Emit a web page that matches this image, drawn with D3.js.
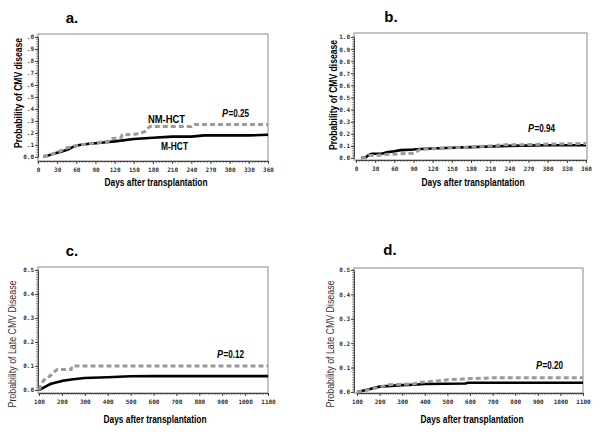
<!DOCTYPE html>
<html><head><meta charset="utf-8">
<script src="https://cdn.jsdelivr.net/npm/d3@7"></script>
<style>body{margin:0;background:#fff}svg{display:block}</style>
</head><body>
<svg id="c" width="600" height="434"></svg>
<script>
// ---- data ----
const panelLabels = ["a.", "b.", "c.", "d."];
const pValues = ["0.25", "0.94", "0.12", "0.20"];
const seriesNames = ["M-HCT", "NM-HCT"];

// panel a (days, probability)
const aDays_M = [8, 15, 20, 30, 40, 48, 55, 65, 80, 90, 110, 120, 150, 180, 210, 240, 260, 300, 330, 360];
const aProb_M = [0.005, 0.01, 0.02, 0.035, 0.05, 0.065, 0.085, 0.10, 0.11, 0.115, 0.125, 0.13, 0.15, 0.16, 0.17, 0.17, 0.18, 0.18, 0.18, 0.185];
const aDays_NM = [8, 15, 25, 35, 45, 55, 65, 80, 100, 110, 112, 130, 132, 150, 160, 168, 172, 175, 210, 240, 243, 300, 360];
const aProb_NM = [0.005, 0.01, 0.03, 0.05, 0.075, 0.09, 0.10, 0.11, 0.125, 0.13, 0.15, 0.16, 0.185, 0.19, 0.195, 0.215, 0.24, 0.255, 0.255, 0.255, 0.27, 0.27, 0.27];

// panel b
const bDays_M = [8, 15, 20, 25, 40, 50, 60, 70, 90, 100, 130, 150, 180, 210, 240, 300, 360];
const bProb_M = [0.0, 0.005, 0.025, 0.035, 0.035, 0.05, 0.055, 0.065, 0.07, 0.075, 0.08, 0.085, 0.09, 0.095, 0.10, 0.105, 0.105];
const bDays_NM = [8, 15, 20, 30, 50, 70, 90, 95, 100, 130, 180, 210, 230, 260, 300, 360];
const bProb_NM = [0.0, 0.005, 0.02, 0.02, 0.03, 0.035, 0.04, 0.055, 0.07, 0.08, 0.09, 0.10, 0.11, 0.11, 0.115, 0.12];

// panel c
const cDays_M = [100, 110, 130, 150, 170, 200, 250, 300, 400, 450, 500, 600, 1100];
const cProb_M = [0.0, 0.005, 0.015, 0.025, 0.03, 0.038, 0.045, 0.05, 0.053, 0.055, 0.057, 0.058, 0.058];
const cDays_NM = [100, 110, 120, 135, 150, 165, 180, 240, 245, 1100];
const cProb_NM = [0.0, 0.02, 0.04, 0.05, 0.06, 0.075, 0.085, 0.085, 0.10, 0.10];

// panel d
const dDays_M = [100, 150, 200, 250, 300, 350, 400, 580, 590, 1100];
const dProb_M = [0.0, 0.01, 0.022, 0.025, 0.028, 0.03, 0.033, 0.035, 0.038, 0.038];
const dDays_NM = [100, 150, 200, 240, 350, 380, 450, 500, 600, 700, 1100];
const dProb_NM = [0.0, 0.008, 0.02, 0.03, 0.033, 0.04, 0.045, 0.05, 0.055, 0.058, 0.058];

// tick labels
const ticksXab = [0, 30, 60, 90, 120, 150, 180, 210, 240, 270, 300, 330, 360];
const ticksXabLabels = ["0", "30", "60", "90", "120", "150", "180", "210", "240", "270", "300", "330", "360"];
const ticksYab = [0, 0.1, 0.2, 0.3, 0.4, 0.5, 0.6, 0.7, 0.8, 0.9, 1.0];
const ticksYaLabels = ["0.0", ".1", ".2", ".3", ".4", ".5", ".6", ".7", ".8", ".9", ".0"];
const ticksYbLabels = ["0.0", "0.1", "0.2", "0.3", "0.4", "0.5", "0.6", "0.7", "0.8", "0.9", "1.0"];
const ticksXcd = [100, 200, 300, 400, 500, 600, 700, 800, 900, 1000, 1100];
const ticksXcdLabels = ["100", "200", "300", "400", "500", "600", "700", "800", "900", "1000", "1100"];
const ticksYcd = [0, 0.1, 0.2, 0.3, 0.4, 0.5];
const ticksYcdLabels = ["0.0", "0.1", "0.2", "0.3", "0.4", "0.5"];

const xTitle = "Days after transplantation";
const yTitleAB = "Probability of CMV disease";
const yTitleCD = "Probability of Late CMV Disease";

// ---- drawing ----
const svg = d3.select("#c");
const zip = (xs, ys) => xs.map((x, i) => [x, ys[i]]);

const panels = [
  {lab: panelLabels[0], p: pValues[0], M: zip(aDays_M, aProb_M), NM: zip(aDays_NM, aProb_NM),
   xd: [0, 360], xr: [38, 268], yd: [0, 1], yr: [157, 37], box: [38, 34, 268, 161],
   xt: ticksXab, xtl: ticksXabLabels, xminor: 5, yt: ticksYab, ytl: ticksYaLabels, yminor: 0.02,
   yTitle: yTitleAB, yBold: true, yTitleX: 18, yTitleLen: 110, yTitleC: 93,
   labPos: [72, 23], pPos: [222, 117], xTitleY: 186, xTitleC: 156,
   names: true},
  {lab: panelLabels[1], p: pValues[1], M: zip(bDays_M, bProb_M), NM: zip(bDays_NM, bProb_NM),
   xd: [0, 360], xr: [356, 586], yd: [0, 1], yr: [158, 37], box: [354, 33, 587, 160],
   xt: ticksXab, xtl: ticksXabLabels, xminor: 5, yt: ticksYab, ytl: ticksYbLabels, yminor: 0.02,
   yTitle: yTitleAB, yBold: true, yTitleX: 333, yTitleLen: 110, yTitleC: 95,
   labPos: [391, 22], pPos: [528, 132], xTitleY: 186, xTitleC: 473},
  {lab: panelLabels[2], p: pValues[2], M: zip(cDays_M, cProb_M), NM: zip(cDays_NM, cProb_NM),
   xd: [100, 1100], xr: [39, 268], yd: [0, 0.5], yr: [390, 270], box: [38, 267, 268, 393],
   xt: ticksXcd, xtl: ticksXcdLabels, xminor: 10, yt: ticksYcd, ytl: ticksYcdLabels, yminor: 0.01,
   yTitle: yTitleCD, yBold: false, yTitleX: 12, yTitleLen: 127, yTitleC: 344,
   labPos: [72, 256], pPos: [217, 358], xTitleY: 423, xTitleC: 155},
  {lab: panelLabels[3], p: pValues[3], M: zip(dDays_M, dProb_M), NM: zip(dDays_NM, dProb_NM),
   xd: [100, 1100], xr: [357, 583], yd: [0, 0.5], yr: [392, 270], box: [354, 268, 583, 393],
   xt: ticksXcd, xtl: ticksXcdLabels, xminor: 10, yt: ticksYcd, ytl: ticksYcdLabels, yminor: 0.01,
   yTitle: yTitleCD, yBold: false, yTitleX: 330, yTitleLen: 127, yTitleC: 344,
   labPos: [390, 255], pPos: [536, 369], xTitleY: 423, xTitleC: 472}
];

const ff = "Liberation Sans, Arial, sans-serif";
const fs = 11.5;

panels.forEach(P => {
  const x = d3.scaleLinear().domain(P.xd).range(P.xr);
  const y = d3.scaleLinear().domain(P.yd).range(P.yr);
  const g = svg.append("g");
  const [bx0, by0, bx1, by1] = P.box;

  // frame
  g.append("rect").attr("x", bx0).attr("y", by0).attr("width", bx1 - bx0).attr("height", by1 - by0)
    .attr("fill", "none").attr("stroke", "#8a8a8a").attr("stroke-width", 1);

  // minor ticks
  const xMinor = d3.range(P.xd[0], P.xd[1] + 0.001, P.xminor);
  g.selectAll(".xm").data(xMinor).join("line")
    .attr("x1", d => x(d)).attr("x2", d => x(d)).attr("y1", by1).attr("y2", by1 + 2)
    .attr("stroke", "#666").attr("stroke-width", 0.7);
  const yMinor = d3.range(P.yd[0], P.yd[1] + 0.0001, P.yminor);
  g.selectAll(".ym").data(yMinor).join("line")
    .attr("x1", bx0 - 2).attr("x2", bx0).attr("y1", d => y(d)).attr("y2", d => y(d))
    .attr("stroke", "#666").attr("stroke-width", 0.7);

  // axes (major ticks + labels)
  const xAxis = d3.axisBottom(x).tickValues(P.xt).tickFormat((d, i) => P.xtl[i]).tickSize(3).tickSizeOuter(0);
  const gx = g.append("g").attr("transform", `translate(0,${by1})`).call(xAxis);
  gx.select(".domain").attr("stroke", "#444");
  gx.selectAll(".tick line").attr("stroke", "#444");
  gx.selectAll("text").attr("font-family", "DejaVu Sans Mono, monospace").attr("font-size", 6)
    .attr("font-weight", "bold").attr("fill", "#333").attr("dy", "0.9em");

  const yAxis = d3.axisLeft(y).tickValues(P.yt).tickFormat((d, i) => P.ytl[i]).tickSize(3).tickSizeOuter(0);
  const gy = g.append("g").attr("transform", `translate(${bx0},0)`).call(yAxis);
  gy.select(".domain").attr("stroke", "#444");
  gy.selectAll(".tick line").attr("stroke", "#444");
  gy.selectAll("text").attr("font-family", "DejaVu Sans Mono, monospace").attr("font-size", 6)
    .attr("font-weight", "bold").attr("fill", "#333").attr("x", -4);

  // curves
  const line = d3.line().x(d => x(d[0])).y(d => y(d[1]));
  g.append("path").datum(P.M).attr("d", line).attr("fill", "none")
    .attr("stroke", "#000").attr("stroke-width", 2.6).attr("stroke-linejoin", "round");
  g.append("path").datum(P.NM).attr("d", line).attr("fill", "none")
    .attr("stroke", "#9a9a9a").attr("stroke-width", 3).attr("stroke-dasharray", "5,3");

  // titles
  g.append("text").attr("x", P.xTitleC - 51.5).attr("y", P.xTitleY)
    .attr("textLength", 103).attr("lengthAdjust", "spacingAndGlyphs")
    .attr("font-family", ff).attr("font-size", fs).attr("font-weight", "bold").text(xTitle);
  g.append("text").attr("transform", `translate(${P.yTitleX},${P.yTitleC + P.yTitleLen / 2}) rotate(-90)`)
    .attr("dy", "0.35em").attr("textLength", P.yTitleLen).attr("lengthAdjust", "spacingAndGlyphs")
    .attr("font-family", ff).attr("font-size", fs).attr("font-weight", P.yBold ? "bold" : "normal")
    .attr("fill", P.yBold ? "#000" : "#333").text(P.yTitle);
  g.append("text").attr("x", P.labPos[0]).attr("y", P.labPos[1]).attr("text-anchor", "middle")
    .attr("font-family", ff).attr("font-size", 15).attr("font-weight", "bold").text(P.lab);

  // P-value: italic P and the rest as two adjacent texts
  g.append("text").attr("x", P.pPos[0]).attr("y", P.pPos[1])
    .attr("textLength", 6).attr("lengthAdjust", "spacingAndGlyphs")
    .attr("font-family", ff).attr("font-size", fs).attr("font-weight", "bold").attr("font-style", "italic").text("P");
  g.append("text").attr("x", P.pPos[0] + 6.5).attr("y", P.pPos[1])
    .attr("textLength", 20.5).attr("lengthAdjust", "spacingAndGlyphs")
    .attr("font-family", ff).attr("font-size", fs).attr("font-weight", "bold").text("=" + P.p);

  if (P.names) {
    g.append("text").attr("x", 148).attr("y", 123).attr("textLength", 37).attr("lengthAdjust", "spacingAndGlyphs")
      .attr("font-family", ff).attr("font-size", fs).attr("font-weight", "bold").text(seriesNames[1]);
    g.append("text").attr("x", 161).attr("y", 150).attr("textLength", 27).attr("lengthAdjust", "spacingAndGlyphs")
      .attr("font-family", ff).attr("font-size", fs).attr("font-weight", "bold").text(seriesNames[0]);
  }
});
</script>
</body></html>
